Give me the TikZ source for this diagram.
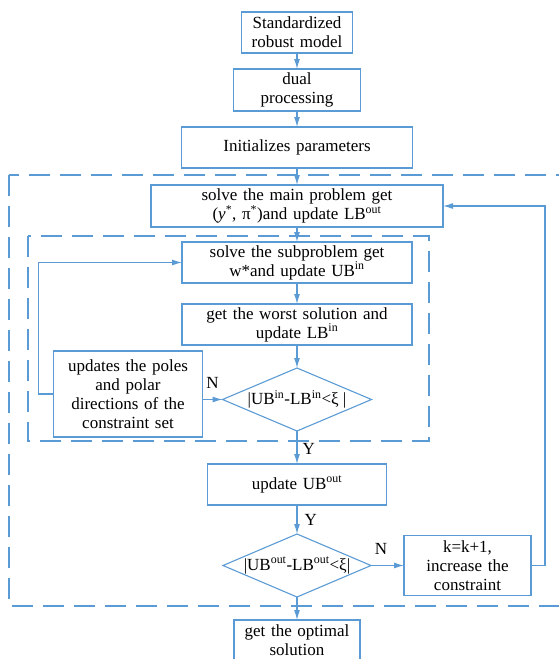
\documentclass[tikz,border=0pt]{standalone}
\usepackage{fontspec}
\setmainfont{Liberation Serif}
\usetikzlibrary{shapes.geometric,arrows.meta,positioning}
\definecolor{flowblue}{RGB}{91,155,213}

\begin{document}
\begin{tikzpicture}[x=1pt, y=-1pt, node distance=16pt, >={Latex[length=10pt,width=6pt]}]
		
		\tikzstyle{all} = [draw=flowblue, line width=1.1pt, inner sep=2pt, outer sep=0pt, align=center, font=\fontsize{17}{19}\selectfont]
		\tikzstyle{block} = [rectangle, all, minimum height=41pt]
		\tikzstyle{decision} = [diamond, all, aspect=2.37, inner sep=-3pt, minimum width=149pt, minimum height=63pt]
		\tikzstyle{answer} = [inner sep=1pt, font=\fontsize{17}{19}\selectfont]
		\tikzstyle{line} = [draw=flowblue, line width=1.1pt]
		\tikzstyle{frame} = [line, dash pattern=on 21pt off 10pt]
		
		\useasboundingbox (0,0) rectangle (559,659);
		
		\node [block, text width=107pt] (model) at (297,32.5) {Standardized\\robust model};
		\node [block, text width=123pt, minimum height=42pt, below = of model] (dual) {dual\\processing};
		\node [block, text width=227pt, below = of dual] (init) {Initializes parameters};
		
		% outer loop
		\node [block, text width=288pt, minimum height=42pt, below = 17pt of init] (master) {solve the main problem get\\({\itshape y}\textsuperscript{*}, π\textsuperscript{*})and update LB\textsuperscript{out}};
		
		% inner loop
		\node [block, text width=226pt, below = 15pt of master] (sub) {solve the subproblem get\\w*and update UB\textsuperscript{in}};
		\node [block, text width=226pt, below = 21pt of sub] (worst) {get the worst solution and\\update LB\textsuperscript{in}};
		\node [decision, below = 23pt of worst] (innercheck) {|UB\textsuperscript{in}-LB\textsuperscript{in}<ξ |};
		\node [block, text width=145pt, minimum height=86pt, left = 20pt of innercheck, yshift=5.5pt] (poles) {updates the poles\\and polar\\directions of the\\constraint set};
		
		\node [block, text width=175pt, below = 33pt of innercheck] (ubout) {update UB\textsuperscript{out}};
		\node [decision, minimum width=148pt, below = 29pt of ubout] (outercheck) {|UB\textsuperscript{out}-LB\textsuperscript{out}<ξ|};
		\node [block, text width=123pt, minimum height=60pt, right = 33pt of outercheck] (increase) {k=k+1,\\increase the\\constraint};
		\node [block, text width=122pt, minimum height=40pt, below = 23pt of outercheck] (optimal) {get the optimal\\solution};
		
		\draw [frame] (9,175) rectangle (575,606);
		\draw [frame] (28,236) rectangle (429,441);
		
		\draw [line, ->] (model) -- (dual);
		\draw [line, ->] (dual) -- (init);
		\draw [line, ->] (init) -- (master);
		\draw [line, ->] (master) -- (sub);
		\draw [line, ->] (sub) -- (worst);
		\draw [line, ->] (worst) -- (innercheck);
		\draw [line, ->] (innercheck) -- node[answer, right, pos=.55, xshift=4pt] {Y} (ubout);
		\draw [line, ->] (ubout) -- node[answer, right, pos=.5, xshift=6pt] {Y} (outercheck);
		\draw [line, ->] (outercheck) -- (optimal);
		\draw [line, ->] (poles.east |- innercheck.west) -- node[answer, above, yshift=9pt] {N} (innercheck.west);
		\draw [line, ->] (outercheck) -- node[answer, above, pos=.3, yshift=9pt] {N} (increase);
		\draw [line, ->] (poles.west) -- ++(-15,0) |- (sub.west);
		\draw [line, ->] (increase.east) -- ++(14,0) |- (master.east);
		
\end{tikzpicture}
\end{document}
